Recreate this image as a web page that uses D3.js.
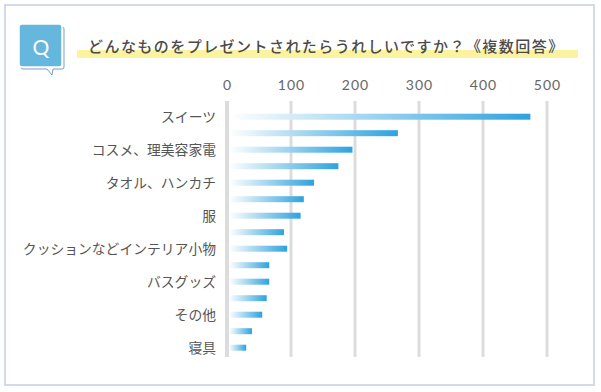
<!DOCTYPE html>
<html><head><meta charset="utf-8">
<script src="https://cdn.jsdelivr.net/npm/d3@7"></script>
<style>
body{margin:0;background:#fff;}
svg{display:block;font-family:"Noto Sans CJK JP","Noto Sans",sans-serif;}
</style></head>
<body><svg id="c" width="601" height="392"></svg>
<script>
const title = "どんなものをプレゼントされたらうれしいですか？《複数回答》";
const categories = ["スイーツ","","コスメ、理美容家電","","タオル、ハンカチ","","服","","クッションなどインテリア小物","","バスグッズ","","その他","","寝具"];
const values = [474,267,196,174,136,120,115,89,94,66,66,62,55,39,30];
const tickValues = [0,100,200,300,400,500];

const svg = d3.select("#c");
// frame
svg.append("rect").attr("x",5).attr("y",5).attr("width",589).attr("height",380)
  .attr("fill","#fff").attr("stroke","#c9d1e3").attr("stroke-width",1.6);

// Q icon
const qb = svg.append("g");
qb.append("path")
  .attr("d","M23,27 H62 Q64,27 64,29 V67 Q64,69 62,69 H53 L52,75 L47,69 H23 Q21,69 21,67 V29 Q21,27 23,27 Z")
  .attr("fill","#fff").attr("stroke","#7f9dc4").attr("stroke-width",1);
qb.append("rect").attr("x",19).attr("y",24).attr("width",43).attr("height",43).attr("rx",3)
  .attr("fill","#66b7de").attr("stroke","#fff").attr("stroke-width",1.5);
qb.append("text").attr("x",41).attr("y",54.5).attr("text-anchor","middle")
  .attr("fill","#fff").attr("font-size",21).attr("font-family","Lato, 'Open Sans', sans-serif").text("Q");

// title highlight
svg.append("rect").attr("x",77).attr("y",50).attr("width",501).attr("height",8).attr("fill","#fbf39f");
svg.append("text").attr("x",88).attr("y",52).attr("fill","#4a4a4a").attr("font-size",15)
  .attr("font-weight",500).attr("letter-spacing","1.45px").text(title);

const x = d3.scaleLinear().domain([0,500]).range([227,547]);
const y = d3.scaleBand().domain(d3.range(categories.length)).range([108.45,355.95]);

// grid lines
svg.append("g").selectAll("line").data(tickValues).join("line")
  .attr("x1",d=>x(d)).attr("x2",d=>x(d)).attr("y1",101).attr("y2",357)
  .attr("stroke","#dcdcdc").attr("stroke-width",d=>d===0?4:3);

// tick labels via axis
const ax = svg.append("g").attr("transform","translate(0,90)")
  .call(d3.axisTop(x).tickValues(tickValues).tickSize(0).tickPadding(0).tickFormat(d3.format("d")));
ax.select(".domain").remove();
ax.selectAll("text").attr("fill","#666").attr("font-size",14).attr("letter-spacing","1px")
  .attr("font-family","Lato, 'Noto Sans', sans-serif").attr("dy","0");

// gradients
const defs = svg.append("defs");
const g = defs.append("linearGradient").attr("id","bg").attr("x1","0").attr("x2","1").attr("y1","0").attr("y2","0");
g.append("stop").attr("offset","0%").attr("stop-color","#ffffff");
g.append("stop").attr("offset","45%").attr("stop-color","#a3d6f0");
g.append("stop").attr("offset","100%").attr("stop-color","#2ea2de");

svg.append("g").selectAll("rect").data(values).join("rect")
  .attr("x",x(0)+2).attr("y",(d,i)=>y(i)+y.bandwidth()/2-3)
  .attr("width",d=>x(d)-x(0)-2).attr("height",6)
  .attr("fill","url(#bg)");

// category labels
svg.append("g").selectAll("text").data(categories).join("text")
  .attr("x",216).attr("y",(d,i)=>y(i)+y.bandwidth()/2).attr("dy","0.36em")
  .attr("text-anchor","end").attr("fill","#555").attr("font-size",13.8).attr("letter-spacing","0px")
  .text(d=>d);
</script></body></html>
